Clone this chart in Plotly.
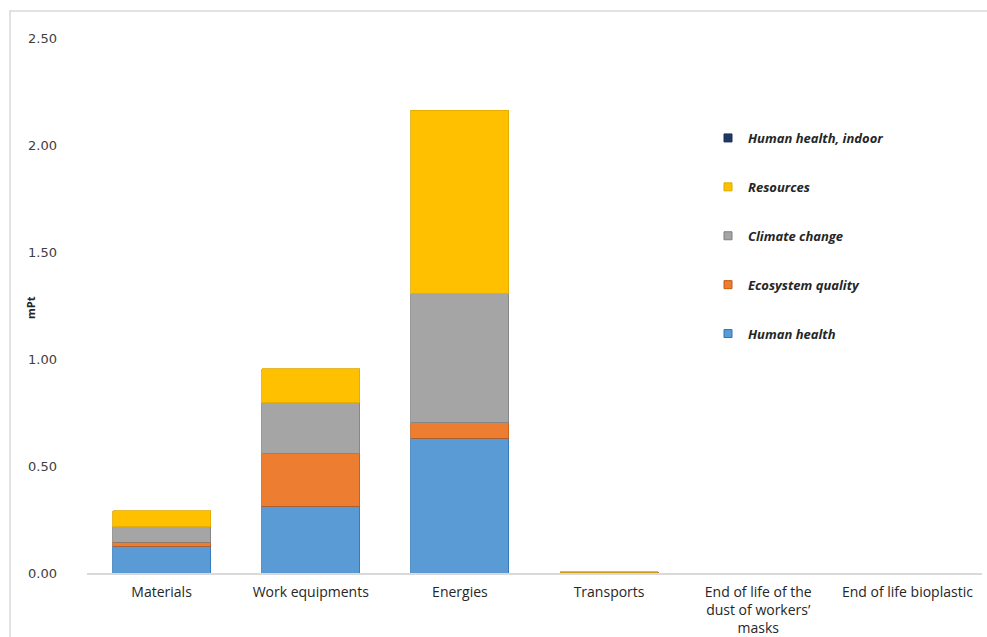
import plotly.graph_objects as go

categories = ["Materials", "Work equipments", "Energies", "Transports",
              "End of life of the<br>dust of workers’<br>masks", "End of life bioplastic"]

human_health = [0.125, 0.313, 0.629, 0.002, 0.0, 0.0]
ecosystem_quality = [0.019, 0.245, 0.072, 0.0005, 0.0, 0.0]
climate_change = [0.071, 0.238, 0.605, 0.0015, 0.0, 0.0]
resources = [0.075, 0.159, 0.857, 0.001, 0.0, 0.0]
human_health_indoor = [0.0, 0.0, 0.0, 0.0, 0.0, 0.0]

series = [
    ("Human health", human_health, "#5b9bd5", "#2e75b6", 0.8),
    ("Ecosystem quality", ecosystem_quality, "#ed7d31", "#c55a11", 0.8),
    ("Climate change", climate_change, "#a5a5a5", "#7f7f7f", 0.8),
    ("Resources", resources, "#ffc000", "#e0a800", 0.8),
    ("Human health, indoor", human_health_indoor, "#203864", "#1f2f5a", 0),
]

y_ticks = [0, 0.5, 1.0, 1.5, 2.0, 2.5]

fig = go.Figure()
for name, vals, col, edge, lw in series:
    fig.add_trace(go.Bar(
        x=categories, y=vals, name=name, showlegend=False,
        marker=dict(color=col, line=dict(color=edge, width=lw)),
    ))
# legend entries, listed top-to-bottom as in the reference
for name, vals, col, edge, lw in reversed(series):
    fig.add_trace(go.Scatter(
        x=[None], y=[None], mode="markers", name=name, legendgroup=name,
        marker=dict(symbol="square", size=8, color=col, line=dict(color=edge, width=1)),
    ))

L, R, T, B = 87, 5, 38, 64
W, H = 987, 637
pw = W - L - R
ph = H - T - B

fig.update_layout(
    width=W, height=H,
    margin=dict(l=L, r=R, t=T, b=B, autoexpand=False),
    barmode="stack",
    bargap=0.344,
    paper_bgcolor="white",
    plot_bgcolor="white",
    showlegend=True,
    legend=dict(
        x=(708 - L) / pw, y=(573 - 123) / ph, xanchor="left", yanchor="top",
        traceorder="grouped", tracegroupgap=29,
        font=dict(family="Open Sans", size=13, color="#262626", weight="bold", style="italic"),
        bgcolor="rgba(0,0,0,0)", itemwidth=30,
    ),
    xaxis=dict(
        showline=True, linecolor="#d9d9d9", linewidth=1.5,
        showgrid=False, ticks="", zeroline=False, automargin=False,
        tickfont=dict(family="Open Sans", size=14, color="#262626"),
        ticklabelstandoff=5,
    ),
    yaxis=dict(
        range=[0, 2.5], tickvals=y_ticks, tickformat=".2f",
        showgrid=False, zeroline=False, showline=False, ticks="", automargin=False,
        tickfont=dict(family="DejaVu Sans", size=13, color="#404040"),
        ticklabelstandoff=29,
    ),
    annotations=[dict(
        text="<b>mPt</b>", textangle=-90, xref="paper", yref="paper",
        x=(30 - L) / pw, y=(573 - 308) / ph, xanchor="center", yanchor="middle",
        showarrow=False, font=dict(family="Open Sans", size=11, color="#262626"),
    )],
    shapes=[dict(
        type="rect", xref="paper", yref="paper", layer="below",
        x0=(10 - L) / pw, x1=(W + 20 - L) / pw,
        y0=(573 - (H + 20)) / ph, y1=(573 - 11) / ph,
        line=dict(color="#d9d9d9", width=1.5), fillcolor="rgba(0,0,0,0)",
    )],
)

fig.write_html("out.html")
